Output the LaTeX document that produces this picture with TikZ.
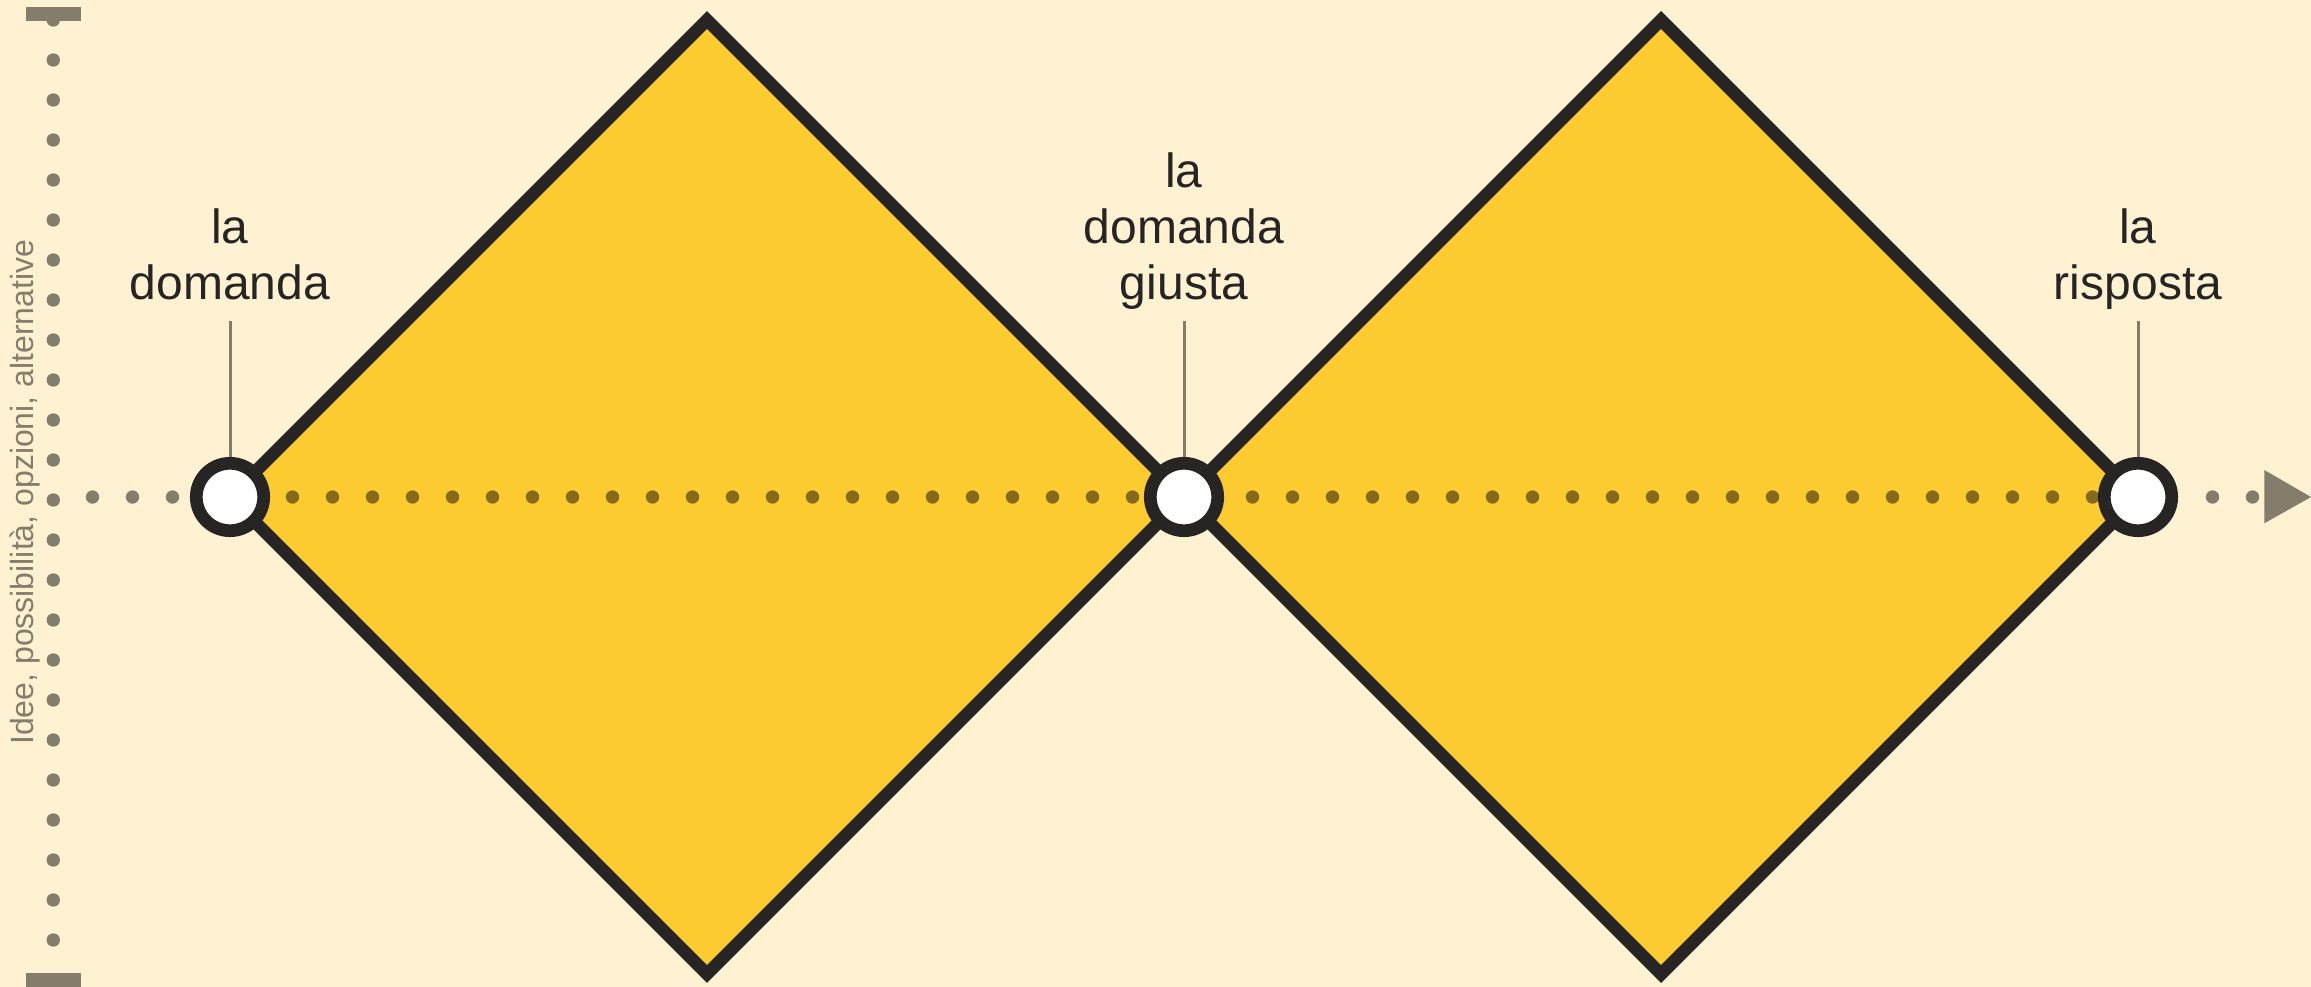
\documentclass[tikz,border=0pt]{standalone}
\usepackage{fontspec}
\setmainfont{Liberation Sans}
\definecolor{bg}{HTML}{FFF2D3}
\definecolor{yel}{HTML}{FCCB30}
\definecolor{ink}{HTML}{262524}
\definecolor{axisgray}{HTML}{857D6B}
\definecolor{innerdot}{HTML}{86691A}
\begin{document}
\begin{tikzpicture}[x=1pt,y=-1pt,
  diam/.style={fill=yel,draw=ink,line width=12.7pt,line join=miter},
  circ/.style={circle,draw=ink,fill=white,line width=12.7pt,minimum size=67.4pt,inner sep=0pt},
  lab/.style={align=center,inner sep=0pt,text=ink,font=\fontsize{48pt}{56pt}\selectfont},
  leader/.style={draw=axisgray,line width=3pt},
  ylabel/.style={rotate=90,anchor=base west,inner sep=0pt,text=axisgray,font=\fontsize{32pt}{38pt}\selectfont}
]
\fill[bg] (0,0) rectangle (2311,987);
\useasboundingbox (0,0) rectangle (2311,987);
% key points
\coordinate (c1) at (230,497);
\coordinate (c2) at (1184,497);
\coordinate (c3) at (2138,497);
\coordinate (t1) at (707,20);
\coordinate (b1) at (707,974);
\coordinate (t2) at (1661,20);
\coordinate (b2) at (1661,974);
% diamonds
\draw[diam] (c1) -- (t1) -- (c2) -- (b1) -- cycle;
\draw[diam] (c2) -- (t2) -- (c3) -- (b2) -- cycle;
% horizontal dotted axis
\foreach \k in {0,1,2,53,54} \fill[axisgray] ({92.5+40*\k},497) circle (6.7pt);
\foreach \k in {5,...,51} \fill[innerdot] ({92.5+40*\k},497) circle (6.7pt);
\fill[axisgray] (2264.3,470) -- (2311,497) -- (2264.3,523.3) -- cycle;
% vertical dotted axis
\foreach \k in {0,...,23} \fill[axisgray] (53.3,{20+40*\k}) circle (6.7pt);
\fill[axisgray] (26,7.3) rectangle (80.7,20.7);
\fill[axisgray] (26,972.7) rectangle (80.7,986.7);
\node[ylabel] (ylab) at (33.3,745) {Idee, possibilità, opzioni, alternative};
% circles
\node[circ] (q1) at (c1) {};
\node[circ] (q2) at (c2) {};
\node[circ] (q3) at (c3) {};
% labels
\node[lab,anchor=north] (l1) at (230,209) {la\\domanda};
\node[lab,anchor=north] (l2) at (1184,153) {la\\domanda\\giusta};
\node[lab,anchor=north] (l3) at (2138,209) {la\\risposta};
\coordinate (e1) at (230,321);
\coordinate (e2) at (1184,321);
\coordinate (e3) at (2138,321);
\draw[leader] (e1) -- (q1);
\draw[leader] (e2) -- (q2);
\draw[leader] (e3) -- (q3);
\end{tikzpicture}
\end{document}
